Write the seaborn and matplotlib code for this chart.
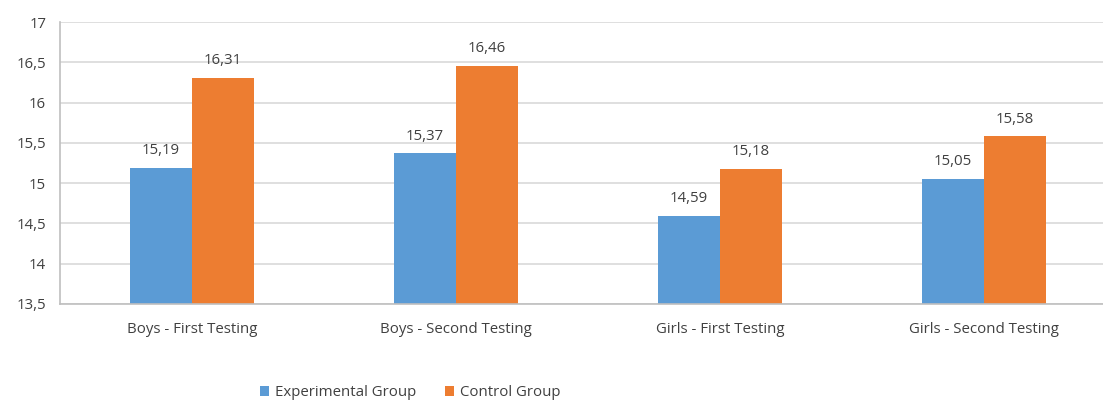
import matplotlib
matplotlib.use("Agg")
import matplotlib.pyplot as plt
import matplotlib.ticker as mticker
import seaborn as sns
import pandas as pd

categories = ["Boys - First Testing", "Boys - Second Testing",
              "Girls - First Testing", "Girls - Second Testing"]
experimental = [15.19, 15.37, 14.59, 15.05]
control = [16.31, 16.46, 15.18, 15.58]
groups = ["Experimental Group", "Control Group"]
colors = ["#5B9BD5", "#ED7D31"]

df = pd.DataFrame({
    "category": categories * 2,
    "value": experimental + control,
    "group": [groups[0]] * len(categories) + [groups[1]] * len(categories),
})

sns.set_theme(style="white")
plt.rcParams["font.family"] = ["Open Sans", "DejaVu Sans"]
text_color = "#404040"
fs = 10.8

fig = plt.figure(figsize=(11.03, 4.01), dpi=100)
ax = fig.add_axes([0.0544, 0.2419, 0.9574, 0.7031])

sns.barplot(data=df, x="category", y="value", hue="group", palette=colors,
            hue_order=groups, order=categories, width=0.47, gap=0,
            saturation=1, linewidth=0, ax=ax, legend=True)

ax.set_ylim(13.5, 17)
ax.set_xlim(-0.5, len(categories) - 0.5)
ax.yaxis.set_major_locator(mticker.MultipleLocator(0.5))
ax.yaxis.set_major_formatter(mticker.FuncFormatter(
    lambda v, _: (f"{v:g}").replace(".", ",")))
ax.grid(axis="y", color="#D9D9D9", linewidth=1.2)
ax.set_axisbelow(True)

for s in ["top", "right"]:
    ax.spines[s].set_visible(False)
for s in ["left", "bottom"]:
    ax.spines[s].set_color("#BFBFBF")
    ax.spines[s].set_linewidth(1.2)

ax.tick_params(axis="y", length=5, color="#BFBFBF", labelsize=fs,
               labelcolor=text_color, pad=5)
ax.tick_params(axis="x", which="major", length=0, labelsize=fs,
               labelcolor=text_color, pad=13)
ax.set_xticks([i - 0.5 for i in range(len(categories) + 1)], minor=True)
ax.tick_params(axis="x", which="minor", length=5, color="#BFBFBF", width=1.2)
ax.set_xlabel("")
ax.set_ylabel("")

for container, vals in zip(ax.containers, [experimental, control]):
    ax.bar_label(container, labels=[f"{v:.2f}".replace(".", ",") for v in vals],
                 padding=7, fontsize=fs, color=text_color)

handles, labels = ax.get_legend_handles_labels()
ax.get_legend().remove()
fig.legend(handles, labels, loc="center", bbox_to_anchor=(0.372, 0.02),
           ncol=2, frameon=False, fontsize=fs, labelcolor=text_color,
           handlelength=0.6, handleheight=0.6, handletextpad=0.4,
           columnspacing=1.9)

fig.savefig("out.png", dpi=100)
